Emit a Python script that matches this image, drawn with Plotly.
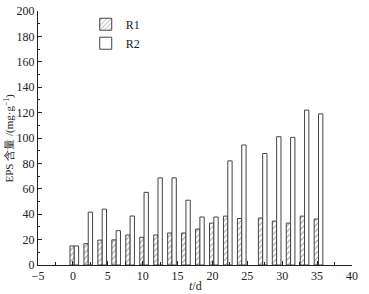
import plotly.graph_objects as go

days = [0, 2, 4, 6, 8, 10, 12, 14, 16, 18, 20, 22, 24, 27, 29, 31, 33, 35]
r1 = [15.0, 16.8, 19.6, 19.8, 23.6, 21.8, 23.6, 25.2, 25.2, 28.3, 33.0, 38.5, 36.6, 37.0, 34.6, 33.0, 38.5, 36.2]
r2 = [15.0, 41.6, 44.0, 27.0, 38.6, 57.2, 68.6, 68.6, 51.0, 37.8, 37.8, 82.0, 94.5, 87.8, 101.0, 100.5, 122.0, 119.0]

font = dict(family="Liberation Serif, Times New Roman, serif", size=12, color="#222")
edge = "#444"

fig = go.Figure()
fig.add_trace(go.Bar(
    x=days, y=r1, name="R1", width=0.62, offset=-0.42,
    marker=dict(color="white", line=dict(color=edge, width=1),
                pattern=dict(shape="/", fgcolor="#333", bgcolor="white", size=4, solidity=0.25)),
))
fig.add_trace(go.Bar(
    x=days, y=r2, name="R2", width=0.62, offset=0.2,
    marker=dict(color="white", line=dict(color=edge, width=1)),
))

fig.update_layout(
    width=369, height=294,
    margin=dict(l=38, r=17, t=11, b=29, autoexpand=False),
    paper_bgcolor="white", plot_bgcolor="white",
    font=font,
    barmode="overlay",
    showlegend=True,
    legend=dict(x=0.152, y=1.005, xanchor="left", yanchor="top",
                bgcolor="rgba(0,0,0,0)", font=dict(size=12),
                itemwidth=30, tracegroupgap=0),
    xaxis=dict(
        range=[-5, 40], tick0=-5, dtick=5, ticks="inside", ticklen=4,
        tickcolor="#222", showline=True, linecolor="#222", linewidth=1,
        showgrid=False, zeroline=False, tickfont=font, automargin=False,
        minor=dict(tick0=-5, dtick=2.5, ticks="inside", ticklen=3, tickcolor="#222"),
    ),
    yaxis=dict(
        range=[0, 200], dtick=20, ticks="inside", ticklen=4,
        tickcolor="#222", showline=True, linecolor="#222", linewidth=1,
        showgrid=False, zeroline=False, tickfont=font, automargin=False,
        minor=dict(dtick=10, ticks="inside", ticklen=2, tickcolor="#222"),
    ),
    annotations=[
        dict(text="<i>t</i>/d", xref="paper", yref="paper", x=0.5, y=0,
             yshift=-30, xanchor="center", yanchor="bottom", showarrow=False,
             font=dict(size=12)),
        dict(text="EPS 含量 /(mg·g<sup>−1</sup>)", xref="paper", yref="paper",
             x=0, y=0.5, xshift=-20, textangle=-90, xanchor="right", yanchor="middle",
             showarrow=False, font=dict(size=11)),
    ],
)

fig.write_html("out.html", config={"displayModeBar": False},
               post_script="document.body.style.margin='0';document.body.style.overflow='hidden';")
